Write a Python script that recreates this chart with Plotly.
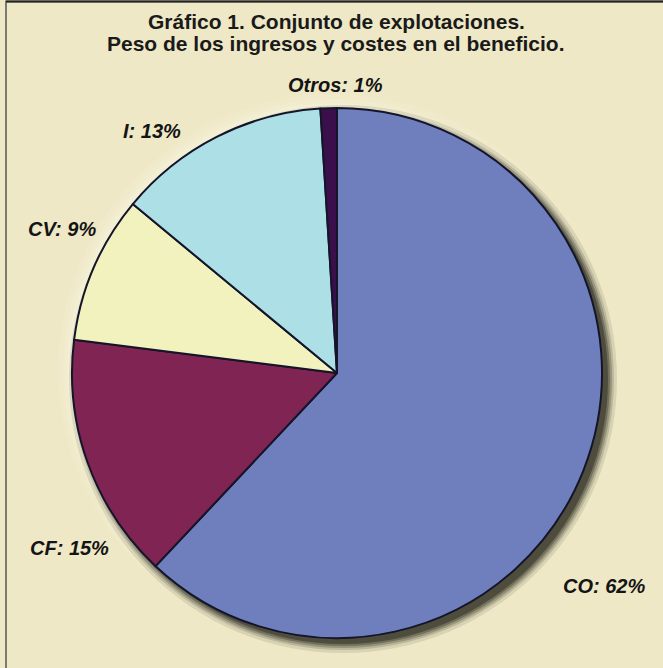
import plotly.graph_objects as go

# ---- data ----
categories = ["CO", "CF", "CV", "I", "Otros"]
values = [62, 15, 9, 13, 1]
colors = ["#6f7ebd", "#7f2453", "#f2f2be", "#ade0e6", "#3b0f4c"]

title_lines = ["Gráfico 1. Conjunto de explotaciones.",
               "Peso de los ingresos y costes en el beneficio."]

# label anchor positions (pixels, from top-left)
label_pos = {"CO": (604, 586), "CF": (69, 548), "CV": (62, 229),
             "I": (152, 131), "Otros": (335, 85)}

W, H = 663, 668
cx, cy, R = 337, 373, 265
BG = "#eee8c6"
FONT = "Liberation Sans, Arial, sans-serif"


def px(x):
    return x / W


def py(y):
    return 1 - y / H


fig = go.Figure()
fig.add_trace(go.Pie(
    labels=categories, values=values, sort=False, direction="clockwise",
    rotation=0, textinfo="none", hoverinfo="label+percent",
    marker=dict(colors=colors, line=dict(color="#15152a", width=2)),
    domain=dict(x=[px(cx - R), px(cx + R)], y=[py(cy + R), py(cy - R)]),
    showlegend=False,
))

shapes = []
# frame
shapes.append(dict(type="rect", xref="paper", yref="paper",
                   x0=px(6), x1=px(W + 20), y0=py(H + 20), y1=py(1.5),
                   line=dict(color="#7a7a70", width=2), layer="below"))
shapes.append(dict(type="line", xref="paper", yref="paper",
                   x0=px(6), x1=1.0, y0=py(1.5), y1=py(1.5),
                   line=dict(color="#222222", width=2), layer="below"))
# light halo (top-left)
for k, op in [(14, 0.12), (9, 0.18), (5, 0.25)]:
    shapes.append(dict(type="circle", xref="paper", yref="paper",
                       x0=px(cx - R - k), x1=px(cx + R + k - 6),
                       y0=py(cy + R + k - 6), y1=py(cy - R - k),
                       fillcolor="#fbf8e6", opacity=op, line=dict(width=0),
                       layer="below"))
# soft shadow (bottom-right)
off = 6
for k, op in [(9, 0.10), (6, 0.15), (4, 0.22), (2, 0.30), (0, 0.42)]:
    shapes.append(dict(type="circle", xref="paper", yref="paper",
                       x0=px(cx - R + off - k), x1=px(cx + R + off + k),
                       y0=py(cy + R + off + k), y1=py(cy - R + off - k),
                       fillcolor="#1c1a10", opacity=op, line=dict(width=0),
                       layer="below"))

annotations = []
for cat, v in zip(categories, values):
    x, y = label_pos[cat]
    annotations.append(dict(
        x=px(x), y=py(y), xref="paper", yref="paper", showarrow=False,
        text=f"<b><i>{cat}: {v}%</i></b>", xanchor="center", yanchor="middle",
        font=dict(family=FONT, size=20, color="#141414")))
for i, line in enumerate(title_lines):
    annotations.append(dict(
        x=px(336), y=py(22 + 22 * i), xref="paper", yref="paper",
        showarrow=False, text=f"<b>{line}</b>", xanchor="center",
        yanchor="middle",
        font=dict(family=FONT, size=21, color="#1a1a1a")))

fig.update_layout(
    width=W, height=H, margin=dict(l=0, r=0, t=0, b=0),
    paper_bgcolor=BG, plot_bgcolor=BG,
    shapes=shapes, annotations=annotations,
)

fig.write_html("out.html", config={"displayModeBar": False},
               post_script="document.body.style.margin='0';"
                           "document.body.style.padding='0';")
